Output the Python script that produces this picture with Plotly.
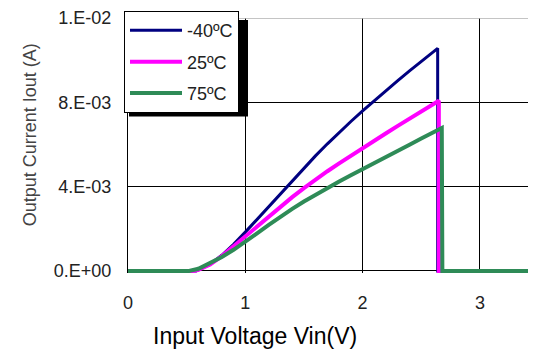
import plotly.graph_objects as go

# ---------------- data ----------------
series_names = ["-40ºC", "25ºC", "75ºC"]
series_colors = ["#000080", "#FF00FF", "#2E8B57"]

vin_m40 = [0, 0.58, 0.6, 0.7, 0.8, 0.9, 1.0, 1.1, 1.2, 1.3, 1.4, 1.5, 1.6, 1.7, 1.8, 1.9,
           2.0, 2.1, 2.2, 2.3, 2.4, 2.5, 2.6, 2.64, 2.64, 3.6]
iout_m40 = [0, 0, 0.05e-3, 0.32e-3, 0.74e-3, 1.26e-3, 1.84e-3, 2.44e-3, 3.06e-3, 3.68e-3,
            4.29e-3, 4.89e-3, 5.47e-3, 6.03e-3, 6.57e-3, 7.09e-3, 7.59e-3, 8.08e-3,
            8.56e-3, 9.03e-3, 9.49e-3, 9.94e-3, 10.38e-3, 10.56e-3, 0, 0]

vin_25 = [0, 0.56, 0.6, 0.7, 0.8, 0.9, 1.0, 1.1, 1.2, 1.3, 1.4, 1.5, 1.6, 1.7, 1.8, 1.9,
          2.0, 2.1, 2.2, 2.3, 2.4, 2.5, 2.6, 2.65, 2.65, 3.6]
iout_25 = [0, 0, 0.05e-3, 0.3e-3, 0.7e-3, 1.17e-3, 1.68e-3, 2.15e-3, 2.61e-3, 3.06e-3,
           3.5e-3, 3.93e-3, 4.34e-3, 4.73e-3, 5.1e-3, 5.47e-3, 5.83e-3, 6.18e-3, 6.53e-3,
           6.88e-3, 7.22e-3, 7.55e-3, 7.88e-3, 8.07e-3, 0, 0]

vin_75 = [0, 0.52, 0.6, 0.7, 0.8, 0.9, 1.0, 1.1, 1.2, 1.3, 1.4, 1.5, 1.6, 1.7, 1.8, 1.9,
          2.0, 2.1, 2.2, 2.3, 2.4, 2.5, 2.6, 2.675, 2.68, 3.6]
iout_75 = [0, 0, 0.1e-3, 0.36e-3, 0.66e-3, 1.0e-3, 1.37e-3, 1.78e-3, 2.18e-3, 2.57e-3,
           2.94e-3, 3.29e-3, 3.62e-3, 3.94e-3, 4.24e-3, 4.54e-3, 4.84e-3, 5.13e-3,
           5.42e-3, 5.71e-3, 5.99e-3, 6.28e-3, 6.56e-3, 6.78e-3, 0, 0]

x_tickvals = [0, 1, 2, 3]
x_ticktext = ["0", "1", "2", "3"]
y_tickvals = [0, 0.004, 0.008, 0.012]
y_ticktext = ["0.E+00", "4.E-03", "8.E-03", "1.E-02"]

x_title = "Input Voltage Vin(V)"
y_title = "Output Current Iout (A)"

# ---------------- layout geometry ----------------
# page has an 8px body margin, so the figure is drawn 8px in from the window edge
OFF = 8
W, H = 536 - OFF, 356 - OFF
ML, MR, MT, MB = 128 - OFF, 0, 16 - OFF, 83.4
PW, PH = W - ML - MR, H - MT - MB
PLOT_BOTTOM = OFF + H - MB  # page pixel of plot bottom


def px_x(px):
    return (px - 128) / PW


def px_y(py):
    return (PLOT_BOTTOM - py) / PH


FONT = "Liberation Sans, Arial, sans-serif"

fig = go.Figure()
xs = [vin_m40, vin_25, vin_75]
ys = [iout_m40, iout_25, iout_75]
widths = [3, 4, 4]
for i in range(3):
    fig.add_trace(go.Scatter(
        x=xs[i], y=ys[i], mode="lines", name=series_names[i],
        legendgroup=series_names[i],
        line=dict(color=series_colors[i], width=widths[i]),
    ))

fig.update_layout(
    width=W, height=H,
    margin=dict(l=ML, r=MR, t=MT, b=MB, pad=0),
    paper_bgcolor="white", plot_bgcolor="white",
    font=dict(family=FONT, size=18, color="#222"),
    showlegend=True,
    legend=dict(
        x=px_x(124), y=px_y(9), xanchor="left", yanchor="top",
        bgcolor="white", bordercolor="black", borderwidth=1,
        font=dict(family=FONT, size=18, color="#222"),
        tracegroupgap=5, itemwidth=52,
    ),
    xaxis=dict(
        range=[0, PW / 117.3], tickvals=x_tickvals, ticktext=x_ticktext,
        showgrid=True, gridcolor="black", gridwidth=1,
        zeroline=False, showline=False, ticks="",
        ticklabelstandoff=17, ticklabeloverflow="allow",
        tickfont=dict(family=FONT, size=18, color="#222"),
    ),
    yaxis=dict(
        range=[-0.0001, 0.012], tickvals=y_tickvals, ticktext=y_ticktext,
        showgrid=True, gridcolor="black", gridwidth=1,
        zeroline=True, zerolinecolor="black", zerolinewidth=1,
        showline=True, linecolor="black", linewidth=1, ticks="",
        ticklabelstandoff=12, ticklabeloverflow="allow",
        tickfont=dict(family=FONT, size=18, color="#222"),
    ),
)

# light top border line
fig.add_shape(type="line", xref="paper", yref="y", x0=0, x1=1, y0=0.012, y1=0.012,
              line=dict(color="#b0b0b0", width=1.5), layer="above")
# legend drop shadow
fig.add_shape(type="rect", xref="paper", yref="paper",
              x0=px_x(129), x1=px_x(248), y0=px_y(115), y1=px_y(18),
              fillcolor="black", line=dict(width=0), layer="above")

fig.add_annotation(text=x_title, xref="paper", yref="paper",
                   x=px_x(255), y=px_y(336), showarrow=False,
                   xanchor="center", yanchor="middle",
                   font=dict(family=FONT, size=23, color="black"))
fig.add_annotation(text=y_title, xref="paper", yref="paper",
                   x=px_x(30), y=px_y(134), showarrow=False, textangle=-90,
                   xanchor="center", yanchor="middle",
                   font=dict(family=FONT, size=18, color="#444"))

fig.write_html("out.html")
